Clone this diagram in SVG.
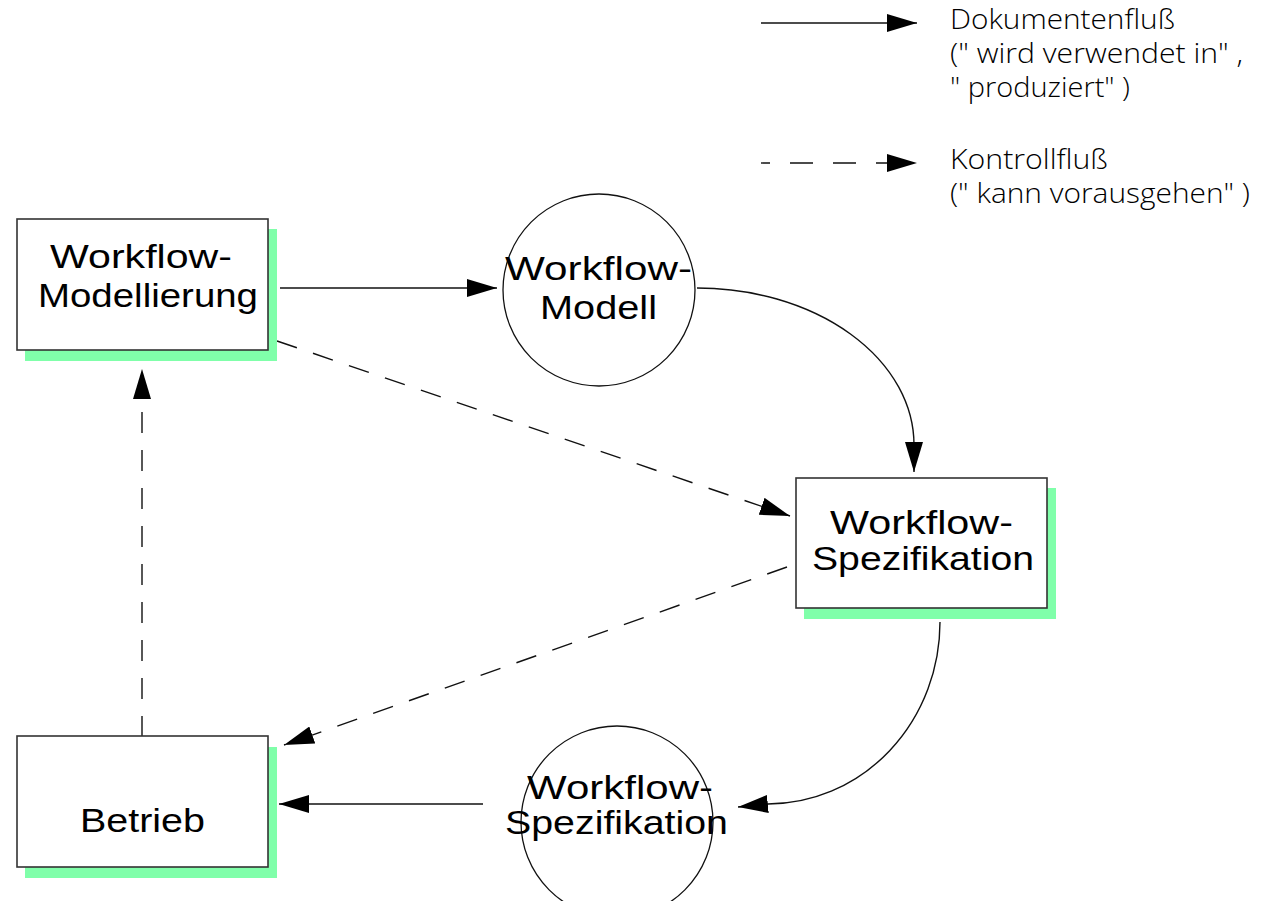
<svg xmlns="http://www.w3.org/2000/svg" width="1272" height="901" viewBox="0 0 1272 901">
  <defs>
    <style>
      .box { fill: #ffffff; stroke: #333333; stroke-width: 1.6; }
      .shadow { fill: #80ffaa; stroke: none; }
      .circ { fill: none; stroke: #111111; stroke-width: 1.3; }
      .lbl { font-family: "Liberation Sans", Arial, sans-serif; font-size: 33px; fill: #000000; }
      .leg { font-family: "Open Sans", "Noto Sans", sans-serif; font-size: 28px; font-weight: 300; fill: #000000; }
      .solid { fill: none; stroke: #111111; stroke-width: 1.4; marker-end: url(#ah); }
      .dashed { fill: none; stroke: #111111; stroke-width: 1.4; stroke-dasharray: 21 17; marker-end: url(#ah); }
    </style>
    <marker id="ah" markerUnits="userSpaceOnUse" viewBox="0 0 30 18" refX="30" refY="9" markerWidth="30" markerHeight="18" orient="auto">
      <path d="M0,0 L30,9 L0,18 Z" fill="#000000"/>
    </marker>
  </defs>
  <rect width="1272" height="901" fill="#ffffff"/>

  <g id="legend">
    <line class="solid" x1="761" y1="23" x2="917" y2="23"/>
    <line class="dashed" x1="761" y1="163" x2="917" y2="163" style="stroke-dasharray: 23 20; stroke-dashoffset: 14;"/>
    <text class="leg" x="950" y="29" textLength="225" lengthAdjust="spacingAndGlyphs">Dokumentenfluß</text>
    <text class="leg" x="950" y="63" textLength="293" lengthAdjust="spacingAndGlyphs">(" wird verwendet in" ,</text>
    <text class="leg" x="950" y="97" textLength="180" lengthAdjust="spacingAndGlyphs">" produziert" )</text>
    <text class="leg" x="950" y="169" textLength="158" lengthAdjust="spacingAndGlyphs">Kontrollfluß</text>
    <text class="leg" x="950" y="203" textLength="300" lengthAdjust="spacingAndGlyphs">(" kann vorausgehen" )</text>
  </g>

  <g id="connectors">
    <line class="solid" x1="280" y1="288" x2="497" y2="288"/>
    <path class="solid" d="M697,288 A217,157 0 0 1 914,445 L914,472"/>
    <line class="dashed" x1="277" y1="341" x2="790" y2="516"/>
    <line class="dashed" x1="787" y1="567" x2="284" y2="745"/>
    <path class="solid" d="M940,622 A172,182 0 0 1 768,804 L738,807"/>
    <line class="solid" x1="483" y1="804" x2="279" y2="804"/>
    <line class="dashed" x1="142" y1="737" x2="142" y2="369"/>
  </g>

  <g id="node-modellierung">
    <rect class="shadow" x="25" y="229" width="252" height="132"/>
    <rect class="box" x="17" y="219" width="251" height="131"/>
    <text class="lbl" x="50" y="268" textLength="182" lengthAdjust="spacingAndGlyphs">Workflow-</text>
    <text class="lbl" x="38" y="307" textLength="220" lengthAdjust="spacingAndGlyphs">Modellierung</text>
  </g>

  <g id="node-modell">
    <circle class="circ" cx="599" cy="290" r="96"/>
    <text class="lbl" x="505" y="280" textLength="187" lengthAdjust="spacingAndGlyphs">Workflow-</text>
    <text class="lbl" x="540" y="319" textLength="117" lengthAdjust="spacingAndGlyphs">Modell</text>
  </g>

  <g id="node-spezifikation-box">
    <rect class="shadow" x="804" y="488" width="252" height="131"/>
    <rect class="box" x="796" y="478" width="251" height="130"/>
    <text class="lbl" x="830" y="534" textLength="183" lengthAdjust="spacingAndGlyphs">Workflow-</text>
    <text class="lbl" x="812" y="570" textLength="222" lengthAdjust="spacingAndGlyphs">Spezifikation</text>
  </g>

  <g id="node-spezifikation-doc">
    <circle class="circ" cx="617" cy="822" r="96"/>
    <text class="lbl" x="527" y="799" textLength="186" lengthAdjust="spacingAndGlyphs">Workflow-</text>
    <text class="lbl" x="505" y="834" textLength="223" lengthAdjust="spacingAndGlyphs">Spezifikation</text>
  </g>

  <g id="node-betrieb">
    <rect class="shadow" x="25" y="747" width="252" height="131"/>
    <rect class="box" x="17" y="736" width="251" height="131"/>
    <text class="lbl" x="80" y="832" textLength="125" lengthAdjust="spacingAndGlyphs">Betrieb</text>
  </g>
</svg>
